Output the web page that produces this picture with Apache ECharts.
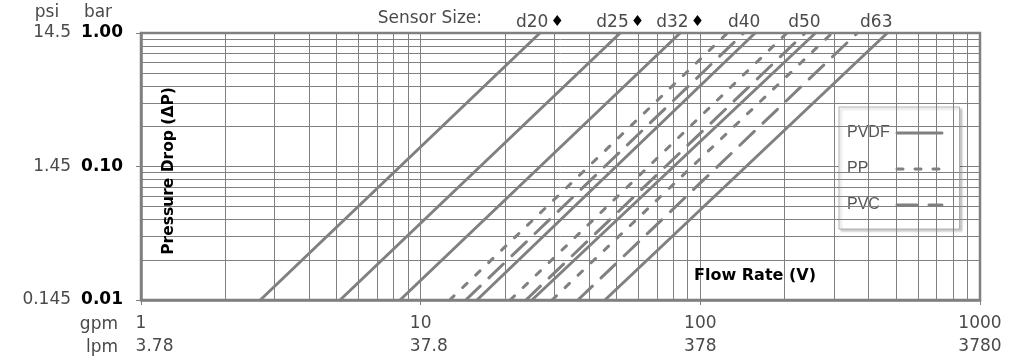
<!DOCTYPE html>
<html><head><meta charset="utf-8">
<script src="https://cdn.jsdelivr.net/npm/echarts@6/dist/echarts.min.js"></script>
<style>html,body{margin:0;padding:0;background:#fff}#c{width:1024px;height:362px}</style>
</head><body><div id="c"></div>
<script>
// ---- data ----
const sizes      = ['d20', 'd25', 'd32', 'd40', 'd50', 'd63'];
const diamond    = [true, true, true, false, false, false];      // "♦" after the size
// PVDF (solid): flow in gpm at 0.01 bar and at 1.00 bar
const pvdfLow    = [2.67, 5.15, 8.44, 15.9, 25.0, 45.6];
const pvdfHigh   = [26.7, 51.7, 84.7, 157, 258, 466];
// PP (short dash) and PVC (long dash), sizes d40, d50, d63
const ppLow      = [12.7, 20.9, 29.5];
const ppHigh     = [125, 204, 296];
const pvcLow     = [14.5, 23.8, 36.5];
const pvcHigh    = [143, 237, 364];
const dpEnds     = [0.01, 1];
// axis labels
const gpmTicks   = ['1', '10', '100', '1000'];
const lpmTicks   = ['3.78', '37.8', '378', '3780'];
const barTicks   = ['0.01', '0.10', '1.00'];
const psiTicks   = ['0.145', '1.45', '14.5'];
// minor grid lines (log grid)
const gridX = [2,3,4,5,6,7,8,9,20,30,40,50,60,70,80,90,200,300,400,500,600,700,800,900];
const gridY = [0.02,0.03,0.04,0.05,0.06,0.07,0.08,0.09,0.2,0.3,0.4,0.5,0.6,0.7,0.8,0.9];

// ---- chart ----
const GRAY = '#808080';
const THIN = 'DejaVu Sans';
const TXT = '#4a4a4a';
const chart = echarts.init(document.getElementById('c'));

// the lpm line is left-aligned with the (centred) gpm number above it
const ctx = document.createElement('canvas').getContext('2d');
ctx.font = '17px "DejaVu Sans"';
const xRich = { g: { fontFamily: THIN, fontSize: 17, lineHeight: 23, color: TXT } };
lpmTicks.forEach((t, i) => {
  const pad = Math.max(0, ctx.measureText(t).width - ctx.measureText(gpmTicks[i]).width);
  xRich['l' + i] = { fontFamily: THIN, fontSize: 17, lineHeight: 23, color: TXT, padding: [0, 0, 0, pad] };
});

function mkLine(name, lo, hi, type, label) {
  const s = {
    name, type: 'line', symbol: 'none', silent: true, animation: false, z: 3,
    color: GRAY,
    lineStyle: { color: GRAY, width: 3, type, cap: 'round' },
    emphasis: { disabled: true },
    data: [[lo, dpEnds[0]], [hi, dpEnds[1]]]
  };
  if (label) {
    s.markPoint = {
      symbol: 'circle', symbolSize: 0, silent: true, animation: false,
      data: [{ coord: [hi, dpEnds[1]] }],
      label: {
        show: true, position: 'top', distance: 2, offset: [label.dx, 0],
        formatter: label.text,
        rich: {
          t: { fontFamily: THIN, fontSize: 17, color: TXT },
          dm: { fontFamily: THIN, fontSize: 15, color: '#000', padding: [0, 0, 0, 2] }
        }
      }
    };
  }
  return s;
}

const series = [];
series.push({
  name: 'grid', type: 'line', data: [], silent: true, animation: false, z: 1,
  markLine: {
    silent: true, animation: false, symbol: ['none', 'none'],
    label: { show: false },
    lineStyle: { color: GRAY, width: 1, type: 'solid' },
    emphasis: { disabled: true },
    data: gridX.map(v => ({ xAxis: v })).concat(gridY.map(v => ({ yAxis: v })))
  }
});
sizes.forEach((s, i) => {
  series.push(mkLine('PVDF', pvdfLow[i], pvdfHigh[i], 'solid', {
    text: diamond[i] ? `{t|${s}}{dm|♦}` : `{t|${s}}`,
    dx: diamond[i] ? 0 : -11
  }));
});
ppLow.forEach((v, i) => series.push(mkLine('PP', v, ppHigh[i], [6, 12])));
pvcLow.forEach((v, i) => series.push(mkLine('PVC', v, pvcHigh[i], [20, 12])));

chart.setOption({
  animation: false,
  backgroundColor: '#fff',
  grid: { left: 141, right: 44, top: 33, bottom: 62, show: true, borderColor: GRAY, borderWidth: 2.5 },
  xAxis: {
    type: 'log', logBase: 10, min: 1, max: 1000,
    axisLine: { show: true, lineStyle: { color: GRAY, width: 2.5 } },
    axisTick: { show: true, length: 5, lineStyle: { color: GRAY, width: 1 } },
    splitLine: { show: true, lineStyle: { color: GRAY, width: 1 } },
    minorTick: { show: false }, minorSplitLine: { show: false },
    axisLabel: {
      margin: 12, align: 'center',
      formatter: v => {
        const i = Math.round(Math.log10(v));
        return `{g|${gpmTicks[i]}}\n{l${i}|${lpmTicks[i]}}`;
      },
      rich: xRich
    }
  },
  yAxis: {
    type: 'log', logBase: 10, min: 0.01, max: 1,
    axisLine: { show: true, lineStyle: { color: GRAY, width: 2.5 } },
    axisTick: { show: true, length: 5, lineStyle: { color: GRAY, width: 1 } },
    splitLine: { show: true, lineStyle: { color: GRAY, width: 1 } },
    axisLabel: {
      margin: 18,
      formatter: v => {
        const i = Math.round(Math.log10(v)) + 2;
        return `{p|${psiTicks[i]}}{b|${barTicks[i]}}`;
      },
      rich: {
        p: { fontFamily: THIN, fontSize: 17, color: TXT, padding: [0, 10, 0, 0] },
        b: { fontFamily: THIN, fontSize: 17, fontWeight: 'bold', color: '#000' }
      }
    }
  },
  legend: {
    data: ['PVDF', 'PP', 'PVC'],
    orient: 'vertical', align: 'right',
    left: 839, top: 107,
    itemWidth: 45, itemHeight: 14, itemGap: 20,
    padding: [18, 16, 16, 8],
    backgroundColor: '#fff', borderColor: '#b0b0b0', borderWidth: 1,
    shadowColor: 'rgba(0,0,0,0.2)', shadowBlur: 2, shadowOffsetX: 2, shadowOffsetY: 2,
    selectedMode: false,
    itemStyle: { opacity: 0, borderWidth: 0 },
    lineStyle: { width: 3 },
    formatter: n => `{a|${n}}`,
    textStyle: {
      rich: { a: { fontFamily: 'Liberation Sans', fontSize: 16, color: '#555', width: 45, align: 'left' } }
    }
  },
  graphic: [
    { type: 'text', x: 482, y: 19, silent: true,
      style: { text: 'Sensor Size:', fontFamily: THIN, fontSize: 17, fill: TXT, textAlign: 'right', textVerticalAlign: 'middle' } },
    { type: 'text', x: 47, y: 13, silent: true,
      style: { text: 'psi', fontFamily: THIN, fontSize: 17, fill: TXT, textAlign: 'center', textVerticalAlign: 'middle' } },
    { type: 'text', x: 98, y: 13, silent: true,
      style: { text: 'bar', fontFamily: THIN, fontSize: 17, fill: TXT, textAlign: 'center', textVerticalAlign: 'middle' } },
    { type: 'text', x: 118, y: 325, silent: true,
      style: { text: 'gpm', fontFamily: THIN, fontSize: 17, fill: TXT, textAlign: 'right', textVerticalAlign: 'middle' } },
    { type: 'text', x: 118, y: 348, silent: true,
      style: { text: 'lpm', fontFamily: THIN, fontSize: 17, fill: TXT, textAlign: 'right', textVerticalAlign: 'middle' } },
    { type: 'text', x: 169, y: 171, rotation: Math.PI / 2, silent: true, z: 10,
      style: { text: 'Pressure Drop (ΔP)', fontFamily: 'DejaVu Sans', fontWeight: 'bold', fontSize: 15.5, fill: '#000', textAlign: 'center', textVerticalAlign: 'middle' } },
    { type: 'text', x: 755, y: 276, silent: true, z: 10,
      style: { text: 'Flow Rate (V)', fontFamily: 'DejaVu Sans', fontWeight: 'bold', fontSize: 16, fill: '#000', textAlign: 'center', textVerticalAlign: 'middle' } }
  ],
  series
});
</script>
</body></html>
